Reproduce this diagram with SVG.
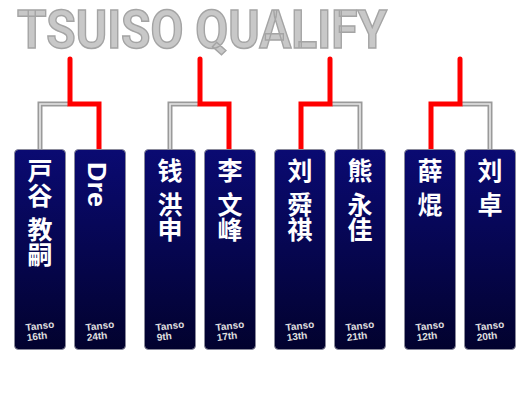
<svg xmlns="http://www.w3.org/2000/svg" width="525" height="400" viewBox="0 0 525 400">
<defs>
<linearGradient id="bg" x1="0" y1="0" x2="0" y2="1">
<stop offset="0" stop-color="#0a0a72"/>
<stop offset="1" stop-color="#02022e"/>
</linearGradient>
</defs>
<style>
.box{fill:url(#bg);stroke:#8a8a9a;stroke-width:1}
.nm{font-family:"Noto Sans CJK SC","Noto Sans CJK JP",sans-serif;font-weight:bold;font-size:25px;fill:#ffffff;writing-mode:vertical-rl}
.sp{font-size:40px}
.lat{font-family:"Liberation Sans",Arial,sans-serif;font-weight:bold;font-size:25px;fill:#ffffff}
.lb{font-family:"Liberation Sans",Arial,sans-serif;font-weight:bold;font-size:10px;fill:#e0e0e0}
.red{fill:none;stroke:#ff0000;stroke-width:5;stroke-linecap:round;stroke-linejoin:miter}
.g1{fill:none;stroke:#9a9a9a;stroke-width:5;stroke-linejoin:miter}
.g2{fill:none;stroke:#e6e6e6;stroke-width:1.6;stroke-linejoin:miter}
.title{font-family:Roboto,"DejaVu Sans",sans-serif;font-weight:bold;font-size:53px;fill:#c8c8c8;stroke:#a4a4a4;stroke-width:1.5}
</style>
<text class="title" x="17" y="48" textLength="370" lengthAdjust="spacingAndGlyphs">TSUISO QUALIFY</text>
<g id="connectors">
<path class="g1" d="M68,104 H40 V150"/><path class="g2" d="M68,104 H40 V150"/>
<path class="red" d="M70,59 V104 H99 V150"/>
<path class="g1" d="M198,104 H170 V150"/><path class="g2" d="M198,104 H170 V150"/>
<path class="red" d="M200,59 V104 H229 V150"/>
<path class="g1" d="M332,104 H360 V150"/><path class="g2" d="M332,104 H360 V150"/>
<path class="red" d="M330,59 V104 H301 V150"/>
<path class="g1" d="M462,104 H490 V150"/><path class="g2" d="M462,104 H490 V150"/>
<path class="red" d="M460,59 V104 H431 V150"/>
</g>
<g id="n1">
<rect class="box" x="14.5" y="149.5" width="51" height="200" rx="4"/>
<text class="nm" x="40" y="158">戸谷<tspan class="sp"> </tspan>教嗣</text>
<text class="lb" transform="translate(26,331) rotate(-7)"><tspan x="0" y="0">Tanso</tspan><tspan x="0" y="10">16th</tspan></text>
</g>
<g id="n2">
<rect class="box" x="74.5" y="149.5" width="51" height="200" rx="4"/>
<text class="lat" transform="translate(88,162) rotate(90)" textLength="45" lengthAdjust="spacingAndGlyphs">Dre</text>
<text class="lb" transform="translate(86,331) rotate(-7)"><tspan x="0" y="0">Tanso</tspan><tspan x="0" y="10">24th</tspan></text>
</g>
<g id="n3">
<rect class="box" x="144.5" y="149.5" width="51" height="200" rx="4"/>
<text class="nm" x="170" y="158">钱<tspan class="sp"> </tspan>洪申</text>
<text class="lb" transform="translate(156,331) rotate(-7)"><tspan x="0" y="0">Tanso</tspan><tspan x="0" y="10">9th</tspan></text>
</g>
<g id="n4">
<rect class="box" x="204.5" y="149.5" width="51" height="200" rx="4"/>
<text class="nm" x="230" y="158">李<tspan class="sp"> </tspan>文峰</text>
<text class="lb" transform="translate(216,331) rotate(-7)"><tspan x="0" y="0">Tanso</tspan><tspan x="0" y="10">17th</tspan></text>
</g>
<g id="n5">
<rect class="box" x="274.5" y="149.5" width="51" height="200" rx="4"/>
<text class="nm" x="300" y="158">刘<tspan class="sp"> </tspan>舜祺</text>
<text class="lb" transform="translate(286,331) rotate(-7)"><tspan x="0" y="0">Tanso</tspan><tspan x="0" y="10">13th</tspan></text>
</g>
<g id="n6">
<rect class="box" x="334.5" y="149.5" width="51" height="200" rx="4"/>
<text class="nm" x="360" y="158">熊<tspan class="sp"> </tspan>永佳</text>
<text class="lb" transform="translate(346,331) rotate(-7)"><tspan x="0" y="0">Tanso</tspan><tspan x="0" y="10">21th</tspan></text>
</g>
<g id="n7">
<rect class="box" x="404.5" y="149.5" width="51" height="200" rx="4"/>
<text class="nm" x="430" y="158">薛<tspan class="sp"> </tspan>焜</text>
<text class="lb" transform="translate(416,331) rotate(-7)"><tspan x="0" y="0">Tanso</tspan><tspan x="0" y="10">12th</tspan></text>
</g>
<g id="n8">
<rect class="box" x="464.5" y="149.5" width="51" height="200" rx="4"/>
<text class="nm" x="490" y="158">刘<tspan class="sp"> </tspan>卓</text>
<text class="lb" transform="translate(476,331) rotate(-7)"><tspan x="0" y="0">Tanso</tspan><tspan x="0" y="10">20th</tspan></text>
</g>
</svg>
